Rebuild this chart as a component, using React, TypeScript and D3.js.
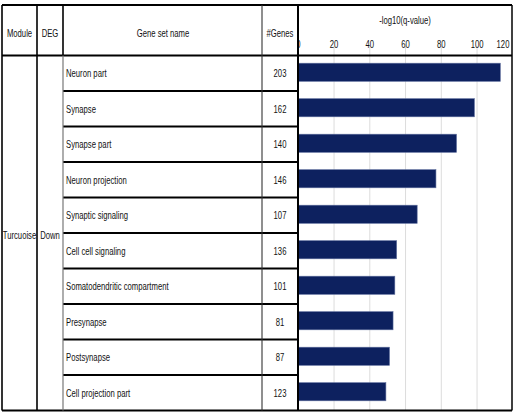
import React, { useEffect, useRef } from 'react';
import * as d3 from 'd3';

const moduleName = 'Turcuoise';
const degDirection = 'Down';
const headers = ['Module', 'DEG', 'Gene set name', '#Genes'];
const geneSets = [
  'Neuron part',
  'Synapse',
  'Synapse part',
  'Neuron projection',
  'Synaptic signaling',
  'Cell cell signaling',
  'Somatodendritic compartment',
  'Presynapse',
  'Postsynapse',
  'Cell projection part',
];
const geneCounts = [203, 162, 140, 146, 107, 136, 101, 81, 87, 123];
const logQ = [113, 98.5, 88.5, 77, 66.5, 55, 54, 53, 51, 49];
const xTicks = [0, 20, 40, 60, 80, 100, 120];

const FONT = "'Liberation Sans', Arial, sans-serif";
const SQUEEZE = 0.7; // narrow lettering

const App = () => {
  const svgRef = useRef<SVGSVGElement>(null);

  useEffect(() => {
    const svg = d3.select(svgRef.current);
    svg.selectAll('*').remove();

    const W = 515;
    const H = 413;
    // column edges of the table
    const colX = [2, 37, 63, 262, 298, 512];
    const top = 5;
    const headBottom = 55.5;
    const bottom = 410.5;

    svg.attr('width', W).attr('height', H);
    svg.append('rect').attr('width', W).attr('height', H).attr('fill', '#fff');

    // condensed text helper
    const label = (parent: any, tx: number, ty: number, txt: string | number, anchor = 'start', size = 11) => {
      parent.append('g')
        .attr('transform', `translate(${tx},${ty}) scale(${SQUEEZE},1)`)
        .append('text')
        .attr('text-anchor', anchor)
        .attr('font-family', FONT)
        .attr('font-size', size)
        .attr('fill', '#111')
        .text(txt);
    };

    const x = d3.scaleLinear().domain([0, 120]).range([298.3, 512.8]);
    const row = d3.scaleBand<string>().domain(geneSets).range([headBottom, bottom]).padding(0);
    const barH = row.bandwidth() * 0.51;

    // gridlines
    svg.append('g')
      .selectAll('line')
      .data(xTicks.slice(1, -1))
      .join('line')
      .attr('x1', d => x(d)).attr('x2', d => x(d))
      .attr('y1', 46).attr('y2', bottom)
      .attr('stroke', '#dcdcdc')
      .attr('stroke-width', 1);

    // bars
    svg.append('g')
      .selectAll('rect')
      .data(geneSets)
      .join('rect')
      .attr('x', x(0))
      .attr('y', d => (row(d) as number) + (row.bandwidth() - barH) / 2 - 1)
      .attr('width', (d, i) => x(logQ[i]) - x(0))
      .attr('height', barH)
      .attr('fill', '#0d215f')
      .attr('stroke', '#5a6a9a')
      .attr('stroke-width', 0.6);

    // axis labels clipped to the chart column
    svg.append('clipPath').attr('id', 'chartClip')
      .append('rect').attr('x', 298).attr('y', 0).attr('width', 214).attr('height', H);

    const tickG = svg.append('g').attr('clip-path', 'url(#chartClip)');
    xTicks.forEach(t => label(tickG, Math.min(x(t), 503), 48, t, 'middle'));

    label(svg, 405, 24, '-log10(q-value)', 'middle');

    // header text
    const headCenters = [19.5, 50, 163, 280];
    headers.forEach((h, i) => label(svg, headCenters[i], 36.5, h, 'middle'));

    // gene set names and counts
    geneSets.forEach((g, i) => {
      const cy = (row(g) as number) + row.bandwidth() / 2 + 4;
      label(svg, 66, cy, g);
      label(svg, 280, cy, geneCounts[i], 'middle');
    });

    // merged cells
    const midY = (headBottom + bottom) / 2 + 5.5;
    label(svg, 19.5, midY, moduleName, 'middle');
    label(svg, 50, midY, degDirection, 'middle');

    // table rules
    const lines = svg.append('g').attr('stroke', '#000');

    // row separators across name and count columns
    lines.selectAll('line.sep')
      .data(geneSets.slice(1))
      .join('line')
      .attr('class', 'sep')
      .attr('x1', colX[2]).attr('x2', colX[4])
      .attr('y1', d => row(d) as number).attr('y2', d => row(d) as number)
      .attr('stroke-width', 2);

    lines.append('line')
      .attr('x1', colX[0]).attr('x2', colX[5])
      .attr('y1', top).attr('y2', top).attr('stroke-width', 2);
    lines.append('line')
      .attr('x1', colX[0]).attr('x2', colX[5])
      .attr('y1', headBottom).attr('y2', headBottom).attr('stroke-width', 2);
    lines.append('line')
      .attr('x1', colX[0]).attr('x2', colX[5])
      .attr('y1', bottom).attr('y2', bottom).attr('stroke-width', 2.2);

    // vertical rules
    lines.append('line').attr('x1', colX[0]).attr('x2', colX[0])
      .attr('y1', top).attr('y2', bottom).attr('stroke-width', 1.6);
    lines.append('line').attr('x1', colX[1]).attr('x2', colX[1])
      .attr('y1', top).attr('y2', bottom).attr('stroke-width', 1.6);
    lines.append('line').attr('x1', colX[2]).attr('x2', colX[2])
      .attr('y1', top).attr('y2', headBottom).attr('stroke-width', 1.6);
    lines.append('line').attr('x1', colX[2]).attr('x2', colX[2])
      .attr('y1', headBottom).attr('y2', bottom).attr('stroke', '#777').attr('stroke-width', 1.2);
    lines.append('line').attr('x1', colX[3]).attr('x2', colX[3])
      .attr('y1', top).attr('y2', bottom).attr('stroke', '#333').attr('stroke-width', 1.1);
    lines.append('line').attr('x1', colX[4]).attr('x2', colX[4])
      .attr('y1', top).attr('y2', bottom).attr('stroke-width', 2);
    lines.append('line').attr('x1', colX[5]).attr('x2', colX[5])
      .attr('y1', top).attr('y2', bottom).attr('stroke-width', 1.5);
  }, []);

  return (
    <svg ref={svgRef} style={{ position: 'absolute', left: 0, top: 0, display: 'block' }}></svg>
  );
};

export default App;
